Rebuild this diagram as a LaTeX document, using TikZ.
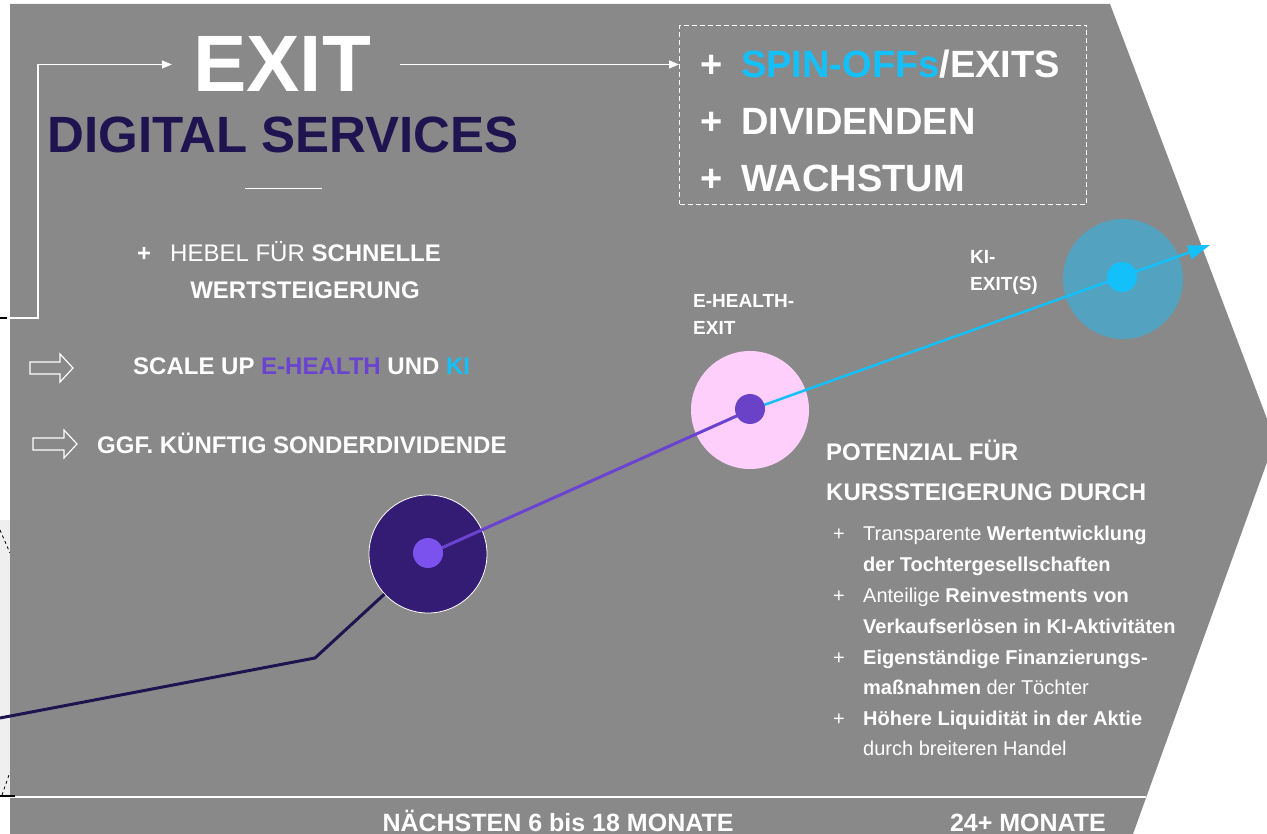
\documentclass[tikz,border=0pt]{standalone}
\usepackage{fontspec}
\setmainfont{Liberation Sans}
\usetikzlibrary{arrows.meta}
\definecolor{bggray}{HTML}{898989}
\definecolor{navy}{HTML}{1F1450}
\definecolor{darkcirc}{HTML}{341B74}
\definecolor{dotone}{HTML}{7B52EE}
\definecolor{pinkcirc}{HTML}{FECFFB}
\definecolor{dottwo}{HTML}{6942C7}
\definecolor{tealcirc}{HTML}{53A3C0}
\definecolor{cyanc}{HTML}{14C0FA}
\definecolor{purpl}{HTML}{6A44D0}
\definecolor{lightstrip}{HTML}{EFEFEF}
\newcommand\myfs[1]{\fontsize{#1}{#1}\selectfont}
\tikzset{
  txt/.style={inner sep=0pt, text=white, anchor=base west},
  head/.style={txt, font={\myfs{24}\bfseries}},
  big/.style={txt, font={\myfs{38}\bfseries}},
  small/.style={txt, font={\myfs{19}\bfseries}},
  bul/.style={txt, font={\myfs{20}}},
  hollowarrow/.style={draw=white, line width=1.2pt, line join=miter},
  bigcirc/.style={circle, inner sep=0pt, minimum size=118pt},
  dotc/.style={circle, inner sep=0pt, minimum size=30pt},
  wline/.style={draw=white, line width=1.5pt}
}
\begin{document}
\begin{tikzpicture}[x=1pt,y=-1pt]
\useasboundingbox (0,0) rectangle (1267,834);
\clip (0,0) rectangle (1267,834);
\fill[white] (0,0) rectangle (1267,834);
% left strip
\fill[lightstrip] (0,520) rectangle (10,797);
\draw[black, dashed, line width=0.8pt] (0,530) -- (10,553);
\draw[black, dashed, line width=0.8pt] (2,795) -- (10,772);
% main gray arrow shape
\fill[bggray] (10,4) -- (1110,4) -- (1275,440) -- (1133,834) -- (10,834) -- cycle;
\draw[white, line width=2pt] (10,797) -- (1146,797);
\draw[black, line width=1.5pt] (0,796) -- (15,796);

% titles
\node[inner sep=0pt, inner xsep=21pt, anchor=base, text=white, font={\myfs{80}\bfseries}] (exit) at (282,92) {EXIT};
\node[inner sep=0pt, anchor=base, text=navy, font={\myfs{51}\bfseries}] (digital) at (283,153) {DIGITAL SERVICES};
\draw[white, line width=1pt] (245,189) -- (322,189);

% elbow arrow from left
\coordinate (leftstart) at (7,318);
\draw[black, line width=1.5pt] (0,318) -- (leftstart);
\draw[wline, -{Triangle[length=10pt,width=8pt]}] (leftstart) -- (38,318) |- (exit.west);

% dashed box
\node[draw=white, dash pattern=on 5pt off 3pt, line width=1pt, minimum width=407pt, minimum height=179pt, anchor=north west, inner sep=0pt] (box) at (679,25) {};
\draw[wline, shorten <=8pt, -{Triangle[length=10pt,width=8pt]}] (exit.east) -- (exit.east -| box.west);

\node[big] (p1) at (700,78) {+};
\node[big] (spin) at (741,78) {\textcolor{cyanc}{SPIN-OFFs}/EXITS};
\node[big] (p2) at (700,135) {+};
\node[big] (divi) at (741,135) {DIVIDENDEN};
\node[big] (p3) at (700,192) {+};
\node[big] (wach) at (741,192) {WACHSTUM};

% hebel
\node[head] (hp) at (137,262) {+};
\node[head] (hebel) at (170,262) {\mdseries HEBEL FÜR \bfseries SCHNELLE};
\node[head, anchor=base] (wert) at (305,299) {WERTSTEIGERUNG};

% hollow arrows
\draw[hollowarrow, shift={(30,368)}] (0,-6) -- (30,-6) -- (30,-14) -- (43,0) -- (30,14) -- (30,6) -- (0,6) -- cycle;
\draw[hollowarrow, shift={(33,444)}] (0,-6) -- (31,-6) -- (31,-14) -- (44,0) -- (31,14) -- (31,6) -- (0,6) -- cycle;
\node[head] (scale) at (133,375) {SCALE UP \textcolor{purpl}{E-HEALTH} UND \textcolor{cyanc}{KI}};
\node[head] (ggf) at (97,453) {GGF. KÜNFTIG SONDERDIVIDENDE};

% circles
\coordinate (c1) at (428,554);
\coordinate (c2) at (750,410);
\coordinate (c3) at (1123,279);
\node[bigcirc, fill=darkcirc, draw=white, line width=0.8pt] (circ1) at (c1) {};
\node[bigcirc, fill=pinkcirc] (circ2) at (c2) {};
\node[bigcirc, fill=tealcirc, minimum size=120pt] (circ3) at (c3) {};

% lines
\coordinate (lstart) at (0,718);
\coordinate (lbend) at (315,658);
\coordinate (tip) at (1210,245);
\draw[navy, line width=3pt] (lstart) -- (lbend) -- (circ1);
\draw[purpl, line width=3pt] (c1) -- (c2);
\draw[cyanc, line width=2.5pt, -{Triangle[length=22pt,width=14pt]}] (c2) -- (tip);

% dots
\node[dotc, fill=dotone] (dot1) at (428,553) {};
\node[dotc, fill=dottwo] (dot2) at (750,409) {};
\node[dotc, fill=cyanc] (dot3) at (1122,277) {};

% labels
\node[small] (eh1) at (693,308) {E-HEALTH-};
\node[small] (eh2) at (693,335) {EXIT};
\node[small] (ki1) at (970,264) {KI-};
\node[small] (ki2) at (970,291) {EXIT(S)};

% potential
\node[head] (pot1) at (826,460) {POTENZIAL FÜR};
\node[head] (pot2) at (826,500) {KURSSTEIGERUNG DURCH};
\node[bul] (b1) at (833,540) {+};
\node[bul] (t1) at (863,540) {Transparente \textbf{Wertentwicklung}};
\node[bul] (t1b) at (863,571) {\textbf{der Tochtergesellschaften}};
\node[bul] (b2) at (833,602) {+};
\node[bul] (t2) at (863,602) {Anteilige \textbf{Reinvestments von}};
\node[bul] (t2b) at (863,633) {\textbf{Verkaufserlösen in KI-Aktivitäten}};
\node[bul] (b3) at (833,664) {+};
\node[bul] (t3) at (863,664) {\textbf{Eigenständige Finanzierungs-}};
\node[bul] (t3b) at (863,694) {\textbf{maßnahmen} der Töchter};
\node[bul] (b4) at (833,725) {+};
\node[bul] (t4) at (863,725) {\textbf{Höhere Liquidität in der Aktie}};
\node[bul] (t4b) at (863,755) {durch breiteren Handel};

% bottom
\node[head, anchor=base, font={\myfs{25}\bfseries}] (next) at (558,831) {NÄCHSTEN 6 bis 18 MONATE};
\node[head, anchor=base, font={\myfs{25}\bfseries}] (later) at (1028,831) {24+ MONATE};
\end{tikzpicture}
\end{document}
